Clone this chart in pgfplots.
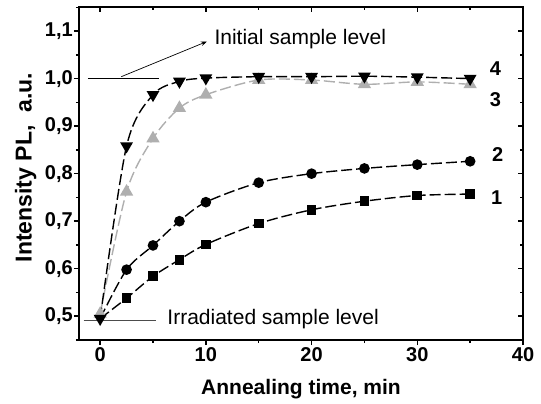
\documentclass[border=0pt]{standalone}
\usepackage{fontspec}
\setmainfont{Liberation Sans}
\usepackage{pgfplots}
\pgfplotsset{compat=1.18}
\usetikzlibrary{arrows.meta}
\definecolor{lgray}{RGB}{175,175,175}
\newcommand{\fsz}{\fontsize{20}{24}\selectfont}
\begin{document}
\begin{tikzpicture}
\pgfplotsset{
  common/.style={
    width=444pt, height=332.7pt, scale only axis,
    xmin=-2, xmax=40, ymin=0.45, ymax=1.15,
    xtick={0,10,20,30,40}, minor xtick={5,15,25,35},
    ytick={0.5,0.6,0.7,0.8,0.9,1.0,1.1},
    minor ytick={0.45,0.55,0.65,0.75,0.85,0.95,1.05,1.15},
    major tick length=5pt, minor tick length=3pt,
    every tick/.style={black, line width=1.5pt},
    axis line style={line width=1.8pt},
  }
}
\begin{axis}[common, name=ax,
    xtick pos=bottom, ytick pos=left, tick align=outside,
    xticklabel={\pgfmathprintnumber[assume math mode=true]{\tick}},
    yticklabel={\pgfmathprintnumber[assume math mode=true, fixed, fixed zerofill, precision=1, use comma]{\tick}},
    tick label style={font=\bfseries\fsz},
    yticklabel style={inner sep=1pt},
    xticklabel style={inner sep=2pt},
    xlabel={Annealing time, min},
    ylabel={Intensity PL,\ \ a.u.},
    xlabel style={font=\bfseries\fontsize{21}{24}\selectfont, yshift=-12pt},
    ylabel style={font=\bfseries\fontsize{23}{26}\selectfont, yshift=4pt, xshift=6pt},
    clip=false,
]
% 1: squares
\addplot[black, line width=1.4pt, dash pattern=on 11pt off 4pt, smooth, tension=0.5,
    mark=square*, mark size=4.2pt, mark options={solid}, mark indices={2,...,10}]
  coordinates {(0,0.495) (2.5,0.538) (5,0.584) (7.5,0.619) (10,0.651) (15,0.695)
               (20,0.724) (25,0.742) (30,0.754) (35,0.757)};
% 2: circles
\addplot[black, line width=1.4pt, dash pattern=on 11pt off 4pt, smooth, tension=0.5,
    mark=*, mark size=4.6pt, mark options={solid}, mark indices={2,...,10}]
  coordinates {(0,0.495) (2.5,0.598) (5,0.649) (7.5,0.700) (10,0.740) (15,0.781)
               (20,0.800) (25,0.811) (30,0.819) (35,0.826)};
% 3: gray up triangles
\addplot[lgray, line width=1.4pt, dash pattern=on 11pt off 4pt, smooth, tension=0.5,
    mark=triangle*, mark size=6.3pt, mark options={solid, fill=lgray}]
  coordinates {(0,0.505) (2.5,0.762) (5,0.874) (7.5,0.938) (10,0.966) (15,0.997)
               (20,0.997) (25,0.988) (30,0.993) (35,0.988)};
% 4: black down triangles
\addplot[black, line width=1.4pt, dash pattern=on 11pt off 4pt, smooth, tension=0.5,
    mark=triangle*, mark size=6pt, mark options={solid, rotate=180}]
  coordinates {(0,0.495) (2.5,0.858) (5,0.966) (7.5,0.994) (10,1.001) (15,1.004)
               (20,1.004) (25,1.005) (30,1.003) (35,1.000)};

% annotations
\draw[black, line width=0.8pt] (axis cs:-1.15,1.0) -- (axis cs:5.6,1.0);
\draw[black, line width=0.7pt, -{Stealth[length=6pt]}] (axis cs:2.0,1.004) -- (axis cs:10.1,1.078);
\node[anchor=west, inner sep=0pt, font=\fontsize{21}{24}\selectfont] at (axis cs:10.8,1.0835) {Initial sample level};
\draw[black!70, line width=0.9pt] (axis cs:-1.56,0.492) -- (axis cs:5.3,0.492);
\node[anchor=west, inner sep=0pt, font=\fontsize{21}{24}\selectfont] at (axis cs:6.35,0.495) {Irradiated sample level};
\node[font=\bfseries\fsz] at (axis cs:37.4,1.021) {4};
\node[font=\bfseries\fsz] at (axis cs:37.4,0.955) {3};
\node[font=\bfseries\fsz] at (axis cs:37.6,0.840) {2};
\node[font=\bfseries\fsz] at (axis cs:37.5,0.749) {1};
\end{axis}
\begin{axis}[common,
    xtick pos=top, ytick pos=right, tick align=inside,
    xticklabels={}, yticklabels={},
    axis line style={draw=none},
]
\end{axis}
\pgfresetboundingbox
\useasboundingbox ([xshift=-79pt,yshift=-63pt]ax.south west) rectangle ([xshift=18pt,yshift=7.3pt]ax.north east);
\end{tikzpicture}
\end{document}
